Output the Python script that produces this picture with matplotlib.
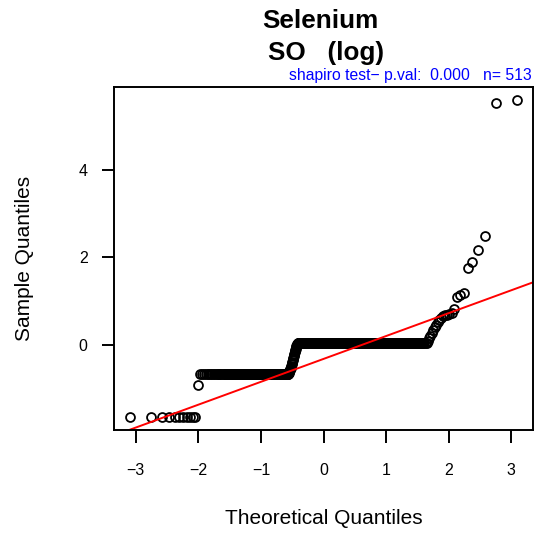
import numpy as np
import matplotlib
matplotlib.use("Agg")
import matplotlib.pyplot as plt
from statistics import NormalDist

# ---- data (sorted sample values, log scale) ----
sample_values = [-1.65, -0.92, -0.67,
                 -0.64, -0.62, -0.60, -0.57, -0.55, -0.52, -0.50, -0.47, -0.44,
                 -0.41, -0.38, -0.35, -0.32, -0.29, -0.26, -0.23, -0.20, -0.17,
                 -0.14, -0.11, -0.08, -0.05, -0.03, -0.01, 0.01, 0.02, 0.03,
                 0.035,
                 0.10, 0.15, 0.20, 0.27, 0.35, 0.40, 0.45, 0.52, 0.57, 0.62,
                 0.66, 0.69, 0.71, 0.73, 0.83, 1.10, 1.14, 1.18, 1.76, 1.90,
                 2.16, 2.50, 5.52, 5.60]
sample_counts = [11, 1, 136] + [1] * 27 + [313] + [1] * 11 + [2] + [1] * 12

title_lines = ["Selenium", "SO   (log)"]
subtitle = "shapiro test\u2212 p.val:  0.000   n= 513"
x_ticks = [-3, -2, -1, 0, 1, 2, 3]
y_ticks = [0, 2, 4]

y = np.repeat(np.array(sample_values), sample_counts)
n = len(y)
a = 3 / 8 if n <= 10 else 0.5
nd = NormalDist()
x = np.array([nd.inv_cdf((i - a) / (n + 1 - 2 * a)) for i in range(1, n + 1)])

q1, q3 = np.quantile(y, [0.25, 0.75])
z1, z3 = nd.inv_cdf(0.25), nd.inv_cdf(0.75)
slope = (q3 - q1) / (z3 - z1)
intercept = q1 - slope * z1

plt.rcParams['font.family'] = ['Liberation Sans', 'DejaVu Sans']

W, H = 540, 535
fig = plt.figure(figsize=(W / 100, H / 100), dpi=100)
L, R, T, B = 114, 533, 87, 430
ax = fig.add_axes([L / W, 1 - B / H, (R - L) / W, (B - T) / H])

ax.plot(x, y, linestyle='none', marker='o', markersize=6.4,
        markerfacecolor='none', markeredgecolor='black', markeredgewidth=1.3)

xr = x.max() - x.min()
yr = y.max() - y.min()
xlim = (x.min() - 0.04 * xr, x.max() + 0.04 * xr)
ylim = (y.min() - 0.04 * yr, y.max() + 0.04 * yr)
ax.set_xlim(xlim)
ax.set_ylim(ylim)
xx = np.array(xlim)
ax.plot(xx, intercept + slope * xx, color='red', lw=1.4)

for s in ax.spines.values():
    s.set_linewidth(1.4)
ax.set_xticks(x_ticks)
ax.set_yticks(y_ticks)
ax.tick_params(axis='x', direction='out', length=9, width=1.4, pad=15, labelsize=11.5)
ax.tick_params(axis='y', direction='out', length=9, width=1.4, pad=10, labelsize=11.5)

fig.text(323.5 / W, 1 - 518 / H, "Theoretical Quantiles", ha='center', va='center', fontsize=15)
fig.text(25 / W, 1 - 258.5 / H, "Sample Quantiles", ha='center', va='center', rotation=90, fontsize=15)

fig.text(320 / W, 1 - 28.3 / H, title_lines[0], ha='center', va='baseline', fontsize=18.8, fontweight='bold')
fig.text(326 / W, 1 - 60 / H, title_lines[1], ha='center', va='baseline', fontsize=18.8, fontweight='bold')
fig.text(531.7 / W, 1 - 80 / H, subtitle, ha='right', va='baseline', fontsize=11.3, color='blue')

fig.savefig("out.png", dpi=100)
